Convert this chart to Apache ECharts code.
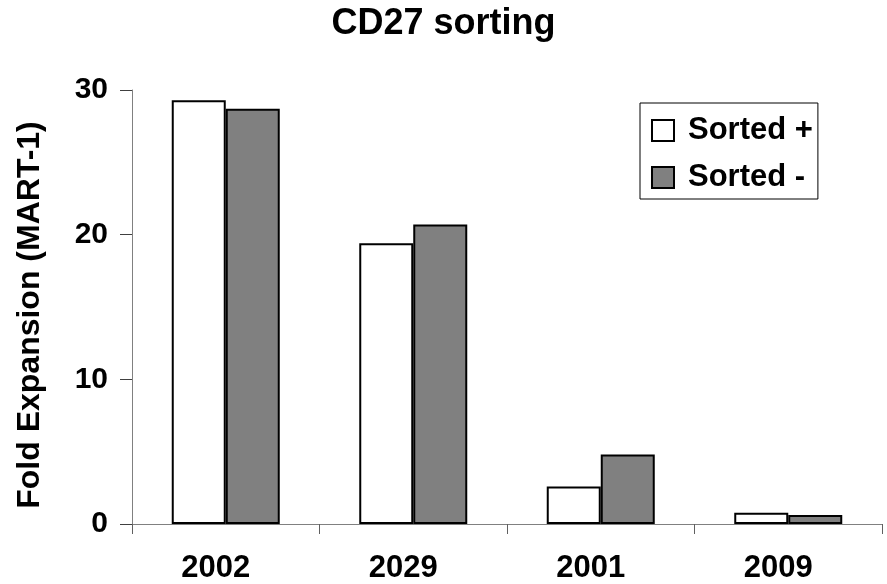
<!DOCTYPE html>
<html>
<head>
<meta charset="utf-8">
<script src="https://cdn.jsdelivr.net/npm/echarts@6/dist/echarts.min.js"></script>
<style>html,body{margin:0;padding:0;background:#fff}#c{width:887px;height:584px}</style>
</head>
<body>
<div id="c"></div>
<script>
var categories = ['2002', '2029', '2001', '2009'];
var sortedPlus = [29.3, 19.4, 2.6, 0.78];
var sortedMinus = [28.7, 20.7, 4.8, 0.62];
var yTicks = [0, 10, 20, 30];

var FONT = '"Liberation Sans", Arial, sans-serif';
var chart = echarts.init(document.getElementById('c'));
chart.setOption({
  backgroundColor: '#fff',
  animation: false,
  title: {
    text: 'CD27 sorting',
    left: 'center',
    top: 1,
    textStyle: { fontFamily: FONT, fontWeight: 'bold', fontSize: 36, color: '#000' }
  },
  legend: {
    orient: 'vertical',
    left: 640,
    top: 103,
    padding: [12, 5, 6, 11],
    itemGap: 16,
    itemWidth: 22,
    itemHeight: 21,
    icon: 'rect',
    borderColor: '#000',
    borderWidth: 1,
    textStyle: { fontFamily: FONT, fontWeight: 'bold', fontSize: 31, color: '#000', padding: [0, 0, 0, 9] },
    data: ['Sorted +', 'Sorted -']
  },
  grid: { left: 132, top: 90, width: 750, height: 434 },
  xAxis: {
    type: 'category',
    data: categories,
    axisLine: { lineStyle: { color: '#808080', width: 1 } },
    axisTick: { show: true, length: 10, lineStyle: { color: '#606060' } },
    axisLabel: { margin: 29, padding: [0, 20, 0, 0], fontFamily: FONT, fontWeight: 'bold', fontSize: 31, color: '#000' }
  },
  yAxis: {
    type: 'value',
    min: 0,
    max: 30,
    interval: 10,
    name: 'Fold Expansion (MART-1)',
    nameLocation: 'middle',
    nameRotate: 90,
    nameGap: 86,
    nameTextStyle: { fontFamily: FONT, fontWeight: 'bold', fontSize: 32, color: '#000', padding: [0, 16, 0, 0] },
    splitLine: { show: false },
    axisLine: { show: true, lineStyle: { color: '#808080', width: 1 } },
    axisTick: { show: true, length: 12, lineStyle: { color: '#404040' } },
    axisLabel: {
      margin: 24, fontFamily: FONT, fontWeight: 'bold', fontSize: 30, color: '#000',
      formatter: function (v) { return yTicks.indexOf(v) >= 0 ? String(v) : ''; }
    }
  },
  series: [
    {
      name: 'Sorted +',
      type: 'bar',
      data: sortedPlus,
      barWidth: 54,
      barGap: '0%',
      itemStyle: { color: '#ffffff', borderColor: '#000', borderWidth: 2 }
    },
    {
      name: 'Sorted -',
      type: 'bar',
      data: sortedMinus,
      barWidth: 54,
      barGap: '0%',
      itemStyle: { color: '#808080', borderColor: '#000', borderWidth: 2 }
    }
  ]
});
</script>
</body>
</html>
